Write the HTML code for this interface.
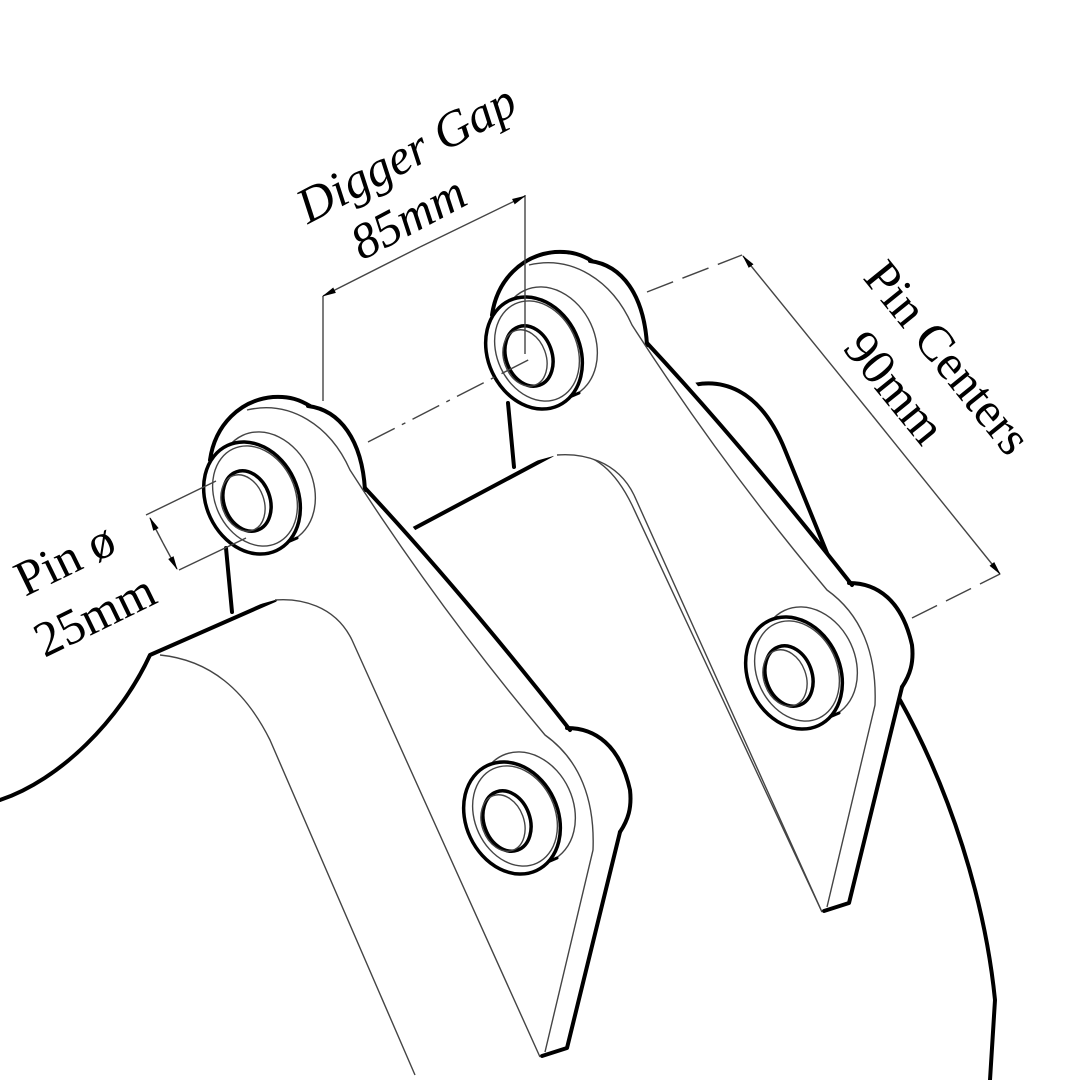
<!DOCTYPE html>
<html><head><meta charset="utf-8"><style>
html,body{margin:0;padding:0;background:#fff;}
svg{display:block;}
.t{fill:none;stroke:#000;stroke-width:4;stroke-linecap:round;stroke-linejoin:round;}
.n{fill:none;stroke:#444;stroke-width:1.4;}
.f{fill:#fff;stroke:none;}
text{font-family:"Liberation Serif",serif;fill:#000;}
</style></head><body>
<svg width="1080" height="1080" viewBox="0 0 1080 1080" xmlns="http://www.w3.org/2000/svg">
<defs>
<marker id="ar" markerWidth="14" markerHeight="8" refX="13" refY="4" orient="auto" markerUnits="userSpaceOnUse">
<path d="M0,1 L14,4 L0,7 Z" fill="#000"/></marker>
<g id="eye">
  <ellipse cx="15" cy="-10" rx="46" ry="58" transform="rotate(-25 15 -10)" fill="#fff" stroke="#444" stroke-width="1.4"/>
  <path class="t" d="M-25,-30 L-10,-55 M10,55 L45,40" style="stroke-width:3"/>
  <ellipse cx="0" cy="0" rx="46" ry="58" transform="rotate(-25)" fill="#fff" stroke="#000" stroke-width="3.5"/>
  <ellipse class="n" cx="3" cy="-2" rx="40" ry="52" transform="rotate(-25 3 -2)"/>
  <ellipse cx="-5" cy="3" rx="23" ry="31" transform="rotate(-20 -5 3)" fill="#fff" stroke="#000" stroke-width="3.5"/>
  <ellipse class="n" cx="-9" cy="5" rx="21" ry="29" transform="rotate(-20 -9 5)"/>
</g>
<g id="plate">
  <path class="f" d="M207,470 C205,425 240,398 285,397 C325,397 350,420 362,460 Q460,590 572,732 C610,735 632,765 628,805 L618,832 L566,1048 L540,1057 L352,640 C335,605 300,598 275,600 L232,612 L228,550 C212,530 207,500 207,470 Z"/>
  <path class="t" d="M308,406 C340,410 362,440 365,490"/>
  <path class="t" d="M210,460 C215,425 240,400 273,397 C290,396 300,400 310,406"/>
  <path class="n" d="M247,410 C290,400 330,425 350,470 Q440,610 545,735 C580,760 595,800 593,850 L545,1052"/>
  <path class="t" d="M365,488 Q460,590 570,730"/>
  <path class="t" d="M567,728 C595,728 620,745 630,790 C632,808 628,820 620,832"/>
  <path class="t" d="M620,832 L567,1048 L542,1056"/>
  <path class="n" d="M540,1057 L352,640 C335,605 300,598 275,600"/>
  <path class="t" d="M226,548 L232,612"/>
  <use href="#eye" transform="translate(252,498)"/>
  <use href="#eye" transform="translate(512,818)"/>
</g>
</defs>

<path class="t" d="M0,800 C60,780 120,720 150,655 L275,600"/>
<path class="n" d="M160,655 C210,660 245,690 270,740 L415,1075"/>
<path class="t" d="M398,537 L552,455"/>
<path class="n" d="M552,455 C590,445 615,470 632,505 L822,912"/>
<path class="t" d="M900,700 C950,790 985,900 995,1000 L990,1080"/>
<path class="t" d="M683,388 C720,375 760,388 785,450 L838,580"/>

<use href="#plate" transform="translate(282,-145)"/>
<use href="#plate"/>

<path class="n" d="M323,401 L323,296"/>
<path class="n" d="M525,354 L525,195"/>
<line x1="420" y1="247" x2="525" y2="196" class="n" marker-end="url(#ar)"/>
<line x1="420" y1="247" x2="323" y2="296" class="n" marker-end="url(#ar)"/>
<path class="n" d="M368,442 L532,358" stroke-dasharray="30,8,4,8"/>

<path class="n" d="M647,292 L742,255" stroke-dasharray="28,10"/>
<path class="n" d="M912,618 L1000,574" stroke-dasharray="28,10"/>
<line x1="872" y1="415" x2="743" y2="256" class="n" marker-end="url(#ar)"/>
<line x1="872" y1="415" x2="1000" y2="574" class="n" marker-end="url(#ar)"/>

<path class="n" d="M146,515 L216,481 M179,570 L246,538"/>
<line x1="163" y1="543" x2="150" y2="518" class="n" marker-end="url(#ar)"/>
<line x1="163" y1="543" x2="177" y2="569" class="n" marker-end="url(#ar)"/>

<text x="414" y="168" font-size="50" font-style="italic" text-anchor="middle" transform="rotate(-28 414 168)">Digger Gap</text>
<text x="416" y="232" font-size="50" font-style="italic" text-anchor="middle" transform="rotate(-28 416 232)">85mm</text>
<text x="72" y="574" font-size="50" text-anchor="middle" transform="rotate(-26 72 574)">Pin ø</text>
<text x="102" y="630" font-size="50" text-anchor="middle" transform="rotate(-26 102 630)">25mm</text>
<text x="935" y="368" font-size="50" text-anchor="middle" transform="rotate(51 935 368)">Pin Centers</text>
<text x="882" y="398" font-size="50" text-anchor="middle" transform="rotate(51 882 398)">90mm</text>
</svg>
</body></html>
